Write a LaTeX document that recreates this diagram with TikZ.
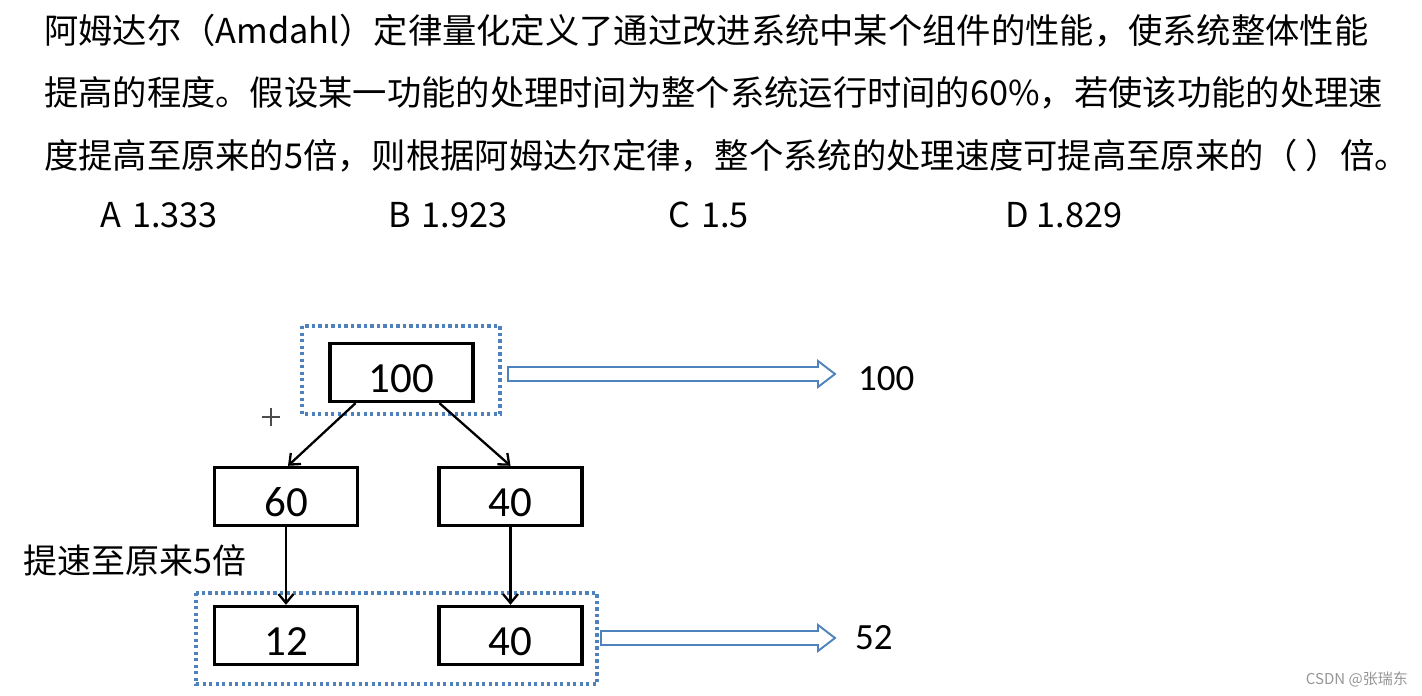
\documentclass[tikz,border=0pt]{standalone}
\usepackage{fontspec}
\setmainfont{Noto Sans CJK SC}
\newfontfamily\numfont{Carlito}
\usetikzlibrary{arrows.meta,fit,calc}
\definecolor{offblue}{HTML}{4F81BD}
\definecolor{wmgray}{RGB}{150,150,150}
\begin{document}
\begin{tikzpicture}[x=1pt,y=-1pt,
  qtext/.style={anchor=base west,inner sep=0pt,font=\fontsize{34.3}{34.3}\selectfont},
  numbox/.style={draw=black,line width=3.4pt,minimum width=143pt,minimum height=58pt,inner sep=0pt,
    text height=39pt,text depth=0pt,font=\numfont\fontsize{43}{43}\selectfont},
  dotbox/.style={draw=offblue,line width=4pt,dash pattern=on 3.2pt off 3.3pt,inner sep=0pt},
  conn/.style={draw=black,line width=2.3pt,-{Straight Barb[length=9pt,width=15pt,line width=2.3pt]}},
  hollow/.style={draw=offblue,line width=1.9pt,fill=white,line join=miter},
  sidelabel/.style={anchor=west,inner sep=0pt,font=\numfont\fontsize{37}{37}\selectfont},
]
\useasboundingbox (0,0) rectangle (1422,696);
\fill[white] (0,0) rectangle (1422,696);

% question text
\node[qtext] (l1) at (44,43) {阿姆达尔（Amdahl）定律量化定义了通过改进系统中某个组件的性能，使系统整体性能};
\node[qtext] (l2) at (44,105) {提高的程度。假设某一功能的处理时间为整个系统运行时间的60\%，若使该功能的处理速};
\node[qtext] (l3) at (44,168) {度提高至原来的5倍，则根据阿姆达尔定律，整个系统的处理速度可提高至原来的（ ）倍。};
\node[qtext] (oa) at (100,227) {A\hspace{0.1em} 1.333};
\node[qtext] (ob) at (388,227) {B\hspace{0.1em} 1.923};
\node[qtext] (oc) at (668,227) {C\hspace{0.1em} 1.5};
\node[qtext] (od) at (1005,227) {D 1.829};

% boxes
\node[numbox] (top) at (401.5,372.5) {100};
\node[numbox] (b60) at (286,496.5) {60};
\node[numbox] (b40) at (510.5,496.5) {40};
\node[numbox] (b12) at (286,635.5) {12};
\node[numbox] (c40) at (510.5,635.5) {40};

% dotted groups
\coordinate (d1a) at (302,326);
\coordinate (d1b) at (500,414);
\draw[dotbox] (d1a) rectangle (d1b);
\coordinate (d2a) at (196,593);
\coordinate (d2b) at (597,684);
\draw[dotbox] (d2a) rectangle (d2b);

% connectors
\draw[conn] ([xshift=-46pt]top.south) -- ([xshift=2pt]b60.north);
\draw[conn] ([xshift=38pt]top.south) -- (b40.north);
\draw[conn] (b60.south) -- (b12.north);
\draw[conn] (b40.south) -- (c40.north);

% hollow arrows
\coordinate (h1s) at (508,374);
\coordinate (h1e) at (835,374);
\draw[hollow] ($(h1s)+(0,-7)$) -- ($(h1e)+(-17,-7)$) -- ($(h1e)+(-17,-13)$) -- (h1e)
  -- ($(h1e)+(-17,13)$) -- ($(h1e)+(-17,7)$) -- ($(h1s)+(0,7)$) -- cycle;
\coordinate (h2s) at (601,638);
\coordinate (h2e) at (835,638);
\draw[hollow] ($(h2s)+(0,-7)$) -- ($(h2e)+(-17,-7)$) -- ($(h2e)+(-17,-13)$) -- (h2e)
  -- ($(h2e)+(-17,13)$) -- ($(h2e)+(-17,7)$) -- ($(h2s)+(0,7)$) -- cycle;

\node[sidelabel] (r1) at (858,379) {100};
\node[sidelabel] (r2) at (855,638) {52};

\node[anchor=west,inner sep=0pt,font=\fontsize{34}{34}\selectfont] (speed) at (23,560) {提速至原来5倍};

% plus mark
\coordinate (pc) at (271,417);
\draw[black!70,line width=1.2pt] ($(pc)+(-9,0)$) -- ($(pc)+(9,0)$) ($(pc)+(0,-9)$) -- ($(pc)+(0,9)$);

% watermark
\node[anchor=east,inner sep=0pt,text=wmgray,font=\fontsize{15}{15}\selectfont] (wm) at (1408,679) {CSDN @张瑞东};
\end{tikzpicture}
\end{document}
